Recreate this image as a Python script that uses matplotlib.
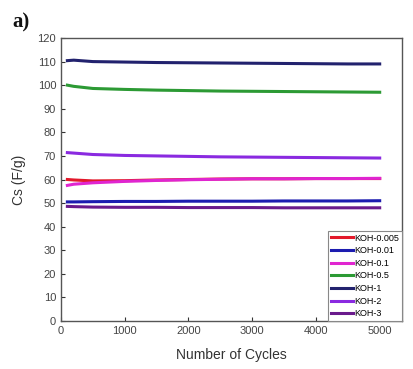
import numpy as np
import matplotlib.pyplot as plt

# cycling stability of the different KOH concentrations
cycles = [100, 200, 500, 1000, 1500, 2000, 2500, 3000, 3500, 4000, 4500, 5000]

koh_0005 = [60.0, 59.8, 59.4, 59.5, 59.8, 60.0, 60.2, 60.3, 60.3, 60.4, 60.4, 60.4]
koh_001 = [50.5, 50.5, 50.6, 50.7, 50.7, 50.8, 50.8, 50.8, 50.9, 50.9, 50.9, 51.0]
koh_01 = [57.5, 58.0, 58.6, 59.2, 59.6, 59.9, 60.1, 60.3, 60.3, 60.4, 60.4, 60.5]
koh_05 = [100.0, 99.5, 98.6, 98.2, 97.9, 97.7, 97.5, 97.4, 97.3, 97.2, 97.1, 97.0]
koh_1 = [110.4, 110.6, 110.0, 109.8, 109.6, 109.5, 109.4, 109.3, 109.2, 109.1, 109.0, 109.0]
koh_2 = [71.4, 71.2, 70.6, 70.2, 70.0, 69.8, 69.6, 69.5, 69.4, 69.3, 69.2, 69.1]
koh_3 = [48.6, 48.5, 48.3, 48.2, 48.2, 48.1, 48.1, 48.1, 48.0, 48.0, 48.0, 48.0]

labels = ['KOH-0.005', 'KOH-0.01', 'KOH-0.1', 'KOH-0.5', 'KOH-1', 'KOH-2', 'KOH-3']
series = [koh_0005, koh_001, koh_01, koh_05, koh_1, koh_2, koh_3]
colors = ['#e3182a', '#1c1cb0', '#e025d0', '#2c9a34', '#22226e', '#8a2ae0', '#6a1a8c']

plt.rcParams['font.family'] = ['Liberation Sans', 'DejaVu Sans']

fig = plt.figure(figsize=(4.13, 3.69), dpi=100)
ax = fig.add_axes([61/413, 48/369, 341/413, 283/369])

for y, lab, c in zip(series, labels, colors):
    ax.plot(cycles, y, color=c, lw=2.2, label=lab)

ax.set_xlim(0, 5350)
ax.set_ylim(0, 120)
ax.set_xticks(np.arange(0, 5001, 1000))
ax.set_yticks(np.arange(0, 121, 10))
ax.tick_params(direction='in', length=3, labelsize=8, colors='#333333',
               labelcolor='#444444')
for s in ax.spines.values():
    s.set_color('#555555')
    s.set_linewidth(1)

ax.set_xlabel('Number of Cycles', fontsize=10, color='#333333', labelpad=9)
ax.set_ylabel('Cs (F/g)', fontsize=10, color='#333333', labelpad=8)

leg = ax.legend(loc='lower right', fontsize=6.5, handlelength=2.4,
                handletextpad=0.2, labelspacing=0.4, borderpad=0.3,
                borderaxespad=0, fancybox=False, framealpha=1)
leg.get_frame().set_edgecolor('#888888')
leg.get_frame().set_linewidth(0.8)

fig.text(12/413, 1 - 27/369, 'a)', fontsize=15, fontweight='bold',
         family='Liberation Serif', color='#111111')

fig.savefig('out.png', dpi=100)
